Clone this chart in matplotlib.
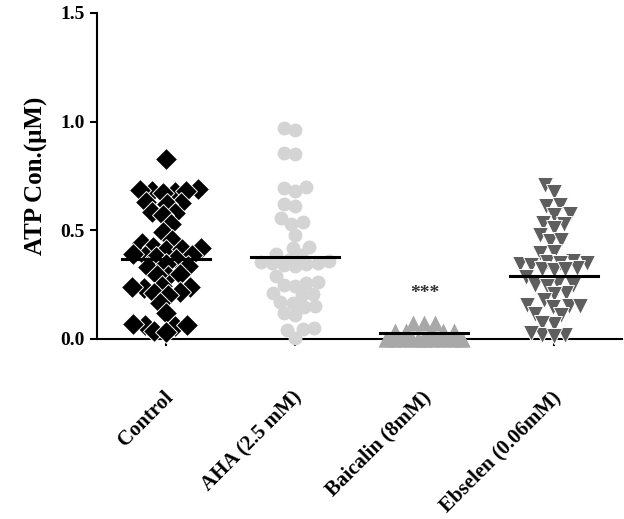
import numpy as np
import matplotlib
matplotlib.use('Agg')
import matplotlib.pyplot as plt
from matplotlib.transforms import ScaledTranslation

plt.rcParams['font.family'] = ['Liberation Serif', 'DejaVu Serif']
plt.rcParams['font.weight'] = 'bold'

groups = ['Control', 'AHA (2.5 mM)', 'Baicalin (8mM)', 'Ebselen (0.06mM)']

control = [0.83,
           0.69, 0.68, 0.675, 0.685, 0.67, 0.68,
           0.63, 0.625, 0.62,
           0.585, 0.58, 0.57,
           0.53, 0.49, 0.455, 0.44,
           0.425, 0.42, 0.41, 0.415,
           0.385, 0.38, 0.37, 0.375, 0.39,
           0.335, 0.33, 0.345,
           0.29, 0.295, 0.30,
           0.245, 0.24, 0.235, 0.24,
           0.21, 0.215, 0.20,
           0.165, 0.12,
           0.065, 0.06, 0.07, 0.065,
           0.035, 0.03]
aha = [0.96, 0.97, 0.855, 0.85,
       0.70, 0.68, 0.695, 0.61, 0.62,
       0.54, 0.53, 0.555, 0.48,
       0.425, 0.42, 0.385, 0.39,
       0.35, 0.355, 0.36, 0.345, 0.365, 0.35, 0.34, 0.335,
       0.29, 0.255, 0.26, 0.25, 0.245,
       0.205, 0.21, 0.20, 0.165, 0.17,
       0.15, 0.145, 0.11, 0.12,
       0.045, 0.05, 0.04, 0.005]
baicalin = [0.072, 0.072, 0.072,
            0.035, 0.035, 0.035, 0.035, 0.035,
            0.0, 0.0, 0.0, 0.0, 0.0, 0.0, 0.0, 0.0,
            0.0, 0.0, 0.0, 0.0, 0.0, 0.0, 0.0, 0.0]
ebselen = [0.71, 0.675, 0.61, 0.615, 0.57, 0.575,
           0.53, 0.535, 0.51, 0.48, 0.45, 0.455,
           0.395, 0.40,
           0.35, 0.355, 0.345, 0.36, 0.35, 0.34,
           0.32, 0.325, 0.315, 0.32, 0.285,
           0.25, 0.255, 0.245, 0.25,
           0.21, 0.205, 0.18,
           0.15, 0.155, 0.145, 0.15,
           0.11, 0.115, 0.07, 0.075,
           0.02, 0.02, 0.025, 0.015]
means = [0.37, 0.377, 0.028, 0.29]

series = [control, aha, baicalin, ebselen]
colors = ['black', '#d4d4d4', '#a8a8a8', '#5e5e5e']
edges = ['white', 'none', 'none', 'white']
markers = ['D', 'o', '^', 'v']
sizes = [11, 10, 11, 11]
spacing = [11.5, 11.5, 11, 11.5]
top_down = [False, False, True, False]

# pixel scale of the plot, used to lay out the swarm
x_px, y_px = 129.0, 218.0


def swarm(vals, d, maxw, descending=False):
    order = np.argsort(-vals if descending else vals, kind='stable')
    xs = np.zeros(len(vals))
    placed = []
    for i in order:
        y = vals[i] * y_px
        near = [(px, py) for px, py in placed if abs(py - y) < d]
        cands = [0.0]
        for px, py in near:
            dx = np.sqrt(d ** 2 - (py - y) ** 2)
            cands += [px + dx, px - dx]
        cands = [c for c in cands if abs(c) <= maxw]
        cands.sort(key=lambda c: (abs(c), c))
        best = None
        for c in cands:
            if all((c - px) ** 2 + (y - py) ** 2 >= d ** 2 - 1e-6 for px, py in near):
                best = c
                break
        if best is None:
            grid = np.linspace(-maxw, maxw, 13)
            score = [min((g - px) ** 2 + (y - py) ** 2 for px, py in near) for g in grid]
            best = grid[int(np.argmax(score))]
        xs[i] = best
        placed.append((best, y))
    return xs / x_px


fig = plt.figure(figsize=(6.24, 5.19), dpi=100)
ax = fig.add_axes([0.155, 0.347, 0.842, 0.628])

for i, vals in enumerate(series):
    vals = np.array(vals)
    off = swarm(vals, spacing[i], 38, top_down[i])
    ax.plot(i + off, vals, linestyle='none', marker=markers[i], ms=sizes[i],
            color=colors[i], markeredgecolor=edges[i], markeredgewidth=0.7,
            clip_on=False, zorder=3)
    ax.plot([i - 0.34, i + 0.34], [means[i], means[i]], color='black',
            lw=2.2, zorder=4, clip_on=False)

ax.text(2, 0.17, '***', ha='center', va='bottom', fontsize=14, color='#333333')

ax.set_xlim(-0.535, 3.53)
ax.set_ylim(0, 1.5)
ax.set_yticks([0, 0.5, 1.0, 1.5])
ax.set_yticklabels(['0.0', '0.5', '1.0', '1.5'])
ax.set_xticks(range(4))
ax.set_xticklabels(groups, rotation=45, ha='right', rotation_mode='anchor')
ax.tick_params(axis='both', width=1.5, length=5, labelsize=14)
ax.tick_params(axis='x', labelsize=15, pad=30)
shift = ScaledTranslation(-3 / 100, 0, fig.dpi_scale_trans)
for lab in ax.get_xticklabels():
    lab.set_transform(lab.get_transform() + shift)
ax.spines['top'].set_visible(False)
ax.spines['right'].set_visible(False)
ax.spines['left'].set_linewidth(1.5)
ax.spines['bottom'].set_linewidth(1.5)
ax.set_ylabel('ATP Con.(μM)', fontsize=18, fontweight='bold', labelpad=9)

fig.savefig('out.png', dpi=100)
